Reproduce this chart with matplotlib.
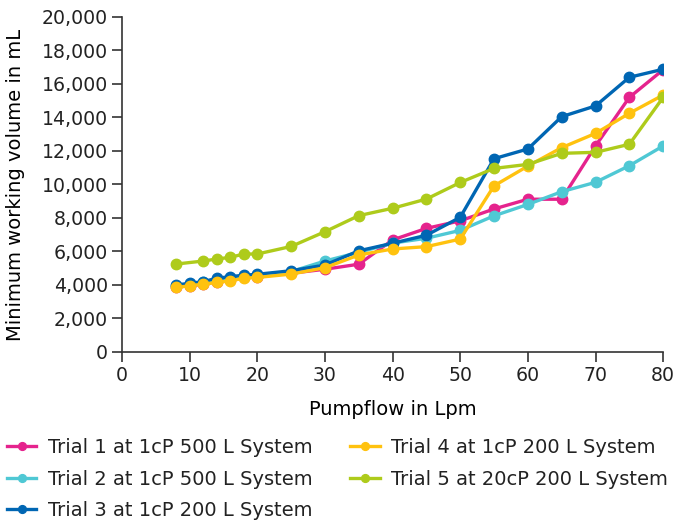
import numpy as np
import matplotlib
matplotlib.use("Agg")
import matplotlib.pyplot as plt
from matplotlib.ticker import StrMethodFormatter

# ---- data ----
flow = [8, 10, 12, 14, 16, 18, 20, 25, 30, 35, 40, 45, 50, 55, 60, 65, 70, 75, 80]
flow_t5 = [8, 12, 14, 16, 18, 20, 25, 30, 35, 40, 45, 50, 55, 60, 65, 70, 75, 80]

trial1 = [3900, 3950, 4050, 4200, 4300, 4450, 4500, 4700, 4940, 5240, 6690, 7380,
          7830, 8540, 9120, 9120, 12300, 15200, 16850]
trial2 = [3950, 4050, 4150, 4300, 4400, 4500, 4600, 4800, 5430, 5950, 6500, 6790,
          7260, 8130, 8810, 9570, 10130, 11120, 12300]
trial3 = [4000, 4100, 4200, 4400, 4500, 4580, 4640, 4850, 5190, 6040, 6490, 6970,
          8040, 11540, 12120, 14050, 14690, 16400, 16880]
trial4 = [3850, 3950, 4050, 4150, 4250, 4400, 4450, 4650, 5030, 5790, 6150, 6290,
          6740, 9920, 11100, 12200, 13050, 14250, 15340]
trial5 = [5250, 5430, 5550, 5650, 5850, 5850, 6300, 7180, 8140, 8580, 9130, 10120,
          10960, 11200, 11860, 11920, 12400, 15200]

labels = ["Trial 1 at 1cP 500 L System", "Trial 2 at 1cP 500 L System",
          "Trial 3 at 1cP 200 L System", "Trial 4 at 1cP 200 L System",
          "Trial 5 at 20cP 200 L System"]
colors = ["#E5238D", "#4FC8D4", "#0066B3", "#FFC20F", "#AECB1B"]

series = [(flow, trial1), (flow, trial2), (flow, trial3), (flow, trial4), (flow_t5, trial5)]

plt.rcParams["font.family"] = "DejaVu Sans"
plt.rcParams["text.color"] = "#222222"

fig = plt.figure(figsize=(6.76, 5.21), dpi=100)
ax = fig.add_axes([0.1805, 0.3244, 0.8005, 0.6430])

# draw back to front so trial 1 ends on top like the reference
for i in [4, 3, 1, 0, 2]:
    xs, ys = series[i]
    ax.plot(xs, ys, color=colors[i], lw=2.4, marker="o", markersize=7.5,
            label=labels[i], zorder=3 + i)

ax.set_xlim(0, 80)
ax.set_ylim(0, 20000)
ax.set_xticks(range(0, 81, 10))
ax.set_yticks(range(0, 20001, 2000))
ax.yaxis.set_major_formatter(StrMethodFormatter("{x:,.0f}"))

for side in ["top", "right"]:
    ax.spines[side].set_visible(False)
for side in ["left", "bottom"]:
    ax.spines[side].set_color("#333333")
    ax.spines[side].set_linewidth(1.2)
ax.tick_params(direction="out", length=7, width=1.2, color="#333333",
               labelcolor="#222222", labelsize=13.6, pad=3)

ax.set_xlabel("Pumpflow in Lpm", fontsize=14, labelpad=11)
ax.set_ylabel("Minimum working volume in mL", fontsize=14, labelpad=12)

handles, labs = ax.get_legend_handles_labels()
order = [labs.index(l) for l in labels]
fig.legend([handles[k] for k in order], labels, loc="upper left",
           bbox_to_anchor=(-0.0155, 0.193), ncol=2, frameon=False,
           fontsize=14, handlelength=1.5, handletextpad=0.6,
           columnspacing=1.95, labelspacing=0.65, markerscale=0.75,
           bbox_transform=fig.transFigure)

fig.savefig("out.png", dpi=100)
